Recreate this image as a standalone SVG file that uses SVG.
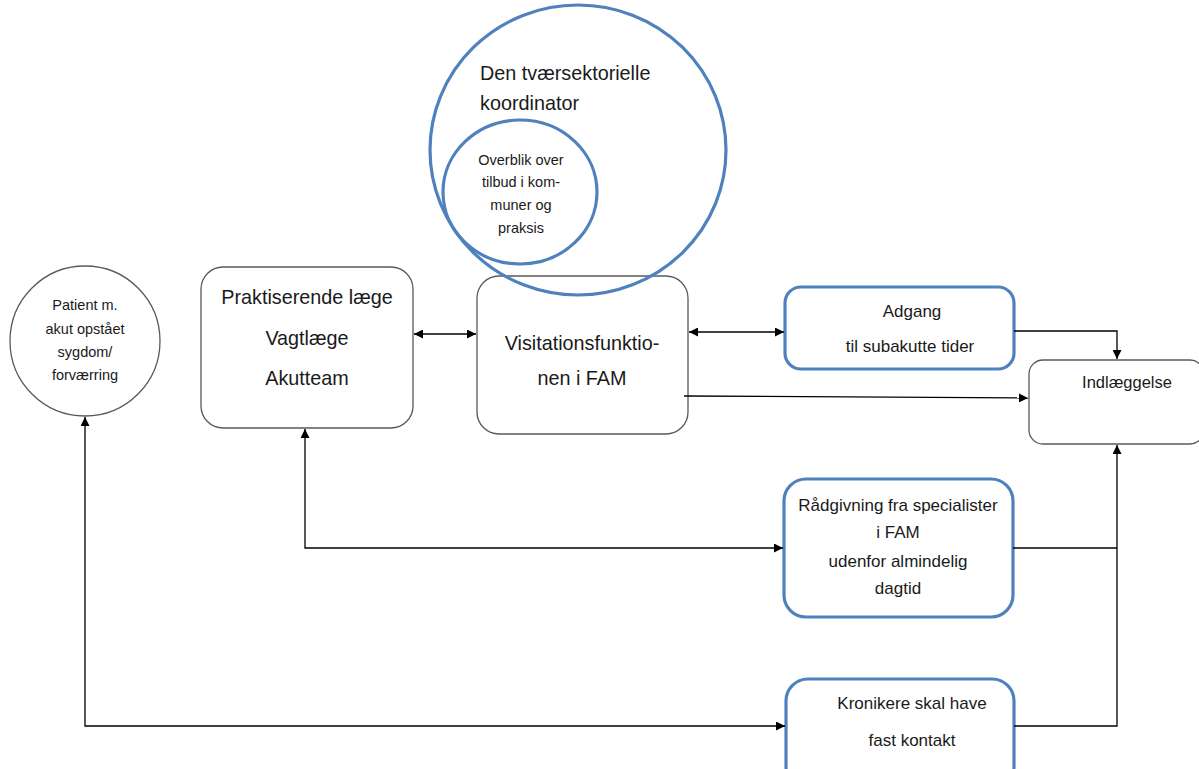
<svg xmlns="http://www.w3.org/2000/svg" width="1199" height="769" viewBox="0 0 1199 769">
<style>
.gbox{fill:#fff;stroke:#595959;stroke-width:1.3}
.bbox{fill:#fff;stroke:#4F81BD;stroke-width:3.2}
.bcirc{fill:none;stroke:#4F81BD;stroke-width:3.2}
.con{fill:none;stroke:#000;stroke-width:1.3}
text{font-family:"Liberation Sans",Arial,sans-serif;fill:#1a1a1a;text-anchor:middle}
.t14{font-size:14.5px}.t16{font-size:16.5px}.t17{font-size:17px}.t20{font-size:19.8px}
</style>
<defs>
<marker id="ah" viewBox="0 0 10 10" refX="10" refY="5" markerWidth="9" markerHeight="9" markerUnits="userSpaceOnUse" orient="auto-start-reverse">
<path d="M0,0 L10,5 L0,10 z" fill="#000"/>
</marker>
</defs>
<rect width="1199" height="769" fill="#fff"/>
<g id="patient">
<circle cx="85" cy="341" r="75" class="gbox"/>
<text class="t14" x="85" y="310">Patient m.</text>
<text class="t14" x="85" y="334">akut opstået</text>
<text class="t14" x="85" y="357">sygdom/</text>
<text class="t14" x="85" y="380">forværring</text>
</g>
<g id="praktiserende">
<rect x="201" y="267" width="212" height="161" rx="22" class="gbox"/>
<text class="t20" x="307" y="304">Praktiserende læge</text>
<text class="t20" x="307" y="345">Vagtlæge</text>
<text class="t20" x="307" y="385">Akutteam</text>
</g>
<g id="visitation">
<rect x="477" y="276" width="211" height="158" rx="22" class="gbox"/>
<text class="t20" x="582" y="350">Visitationsfunktio-</text>
<text class="t20" x="582" y="385">nen i FAM</text>
</g>
<g id="koordinator">
<ellipse cx="578" cy="150" rx="148" ry="145" class="bcirc"/>
<text class="t20" x="480" y="80" style="text-anchor:start">Den tværsektorielle</text>
<text class="t20" x="480" y="110" style="text-anchor:start">koordinator</text>
</g>
<g id="overblik">
<ellipse cx="520" cy="192" rx="77" ry="72" class="bcirc"/>
<text class="t14" x="521" y="165">Overblik over</text>
<text class="t14" x="521" y="187">tilbud i kom-</text>
<text class="t14" x="521" y="210">muner og</text>
<text class="t14" x="521" y="233">praksis</text>
</g>
<g id="adgang">
<rect x="785" y="287" width="229" height="82" rx="16" class="bbox"/>
<text class="t17" x="912" y="317">Adgang</text>
<text class="t17" x="910" y="352">til subakutte tider</text>
</g>
<g id="indlaeggelse">
<rect x="1029" y="360" width="175" height="84" rx="14" class="gbox"/>
<text class="t16" x="1127" y="388">Indlæggelse</text>
</g>
<g id="raadgivning">
<rect x="784" y="479" width="229" height="138" rx="22" class="bbox"/>
<text class="t17" x="898" y="511">Rådgivning fra specialister</text>
<text class="t17" x="898" y="538">i FAM</text>
<text class="t17" x="898" y="567">udenfor almindelig</text>
<text class="t17" x="898" y="594">dagtid</text>
</g>
<g id="kronikere">
<rect x="786" y="679" width="228" height="110" rx="22" class="bbox"/>
<text class="t17" x="912" y="709">Kronikere skal have</text>
<text class="t17" x="912" y="746">fast kontakt</text>
</g>
<g id="connectors">
<line x1="414" y1="334" x2="476" y2="334" class="con" marker-start="url(#ah)" marker-end="url(#ah)"/>
<line x1="689" y1="332" x2="784" y2="332" class="con" marker-start="url(#ah)" marker-end="url(#ah)"/>
<path d="M1014,331 H1117 V359" class="con" marker-end="url(#ah)"/>
<line x1="684" y1="396" x2="1028" y2="398" class="con" marker-end="url(#ah)"/>
<path d="M1014,726 H1117 V445" class="con" marker-end="url(#ah)"/>
<line x1="1013" y1="548" x2="1117" y2="548" class="con"/>
<path d="M305,429 V548 H783" class="con" marker-start="url(#ah)" marker-end="url(#ah)"/>
<path d="M85,417 V726 H785" class="con" marker-start="url(#ah)" marker-end="url(#ah)"/>
</g>
</svg>
